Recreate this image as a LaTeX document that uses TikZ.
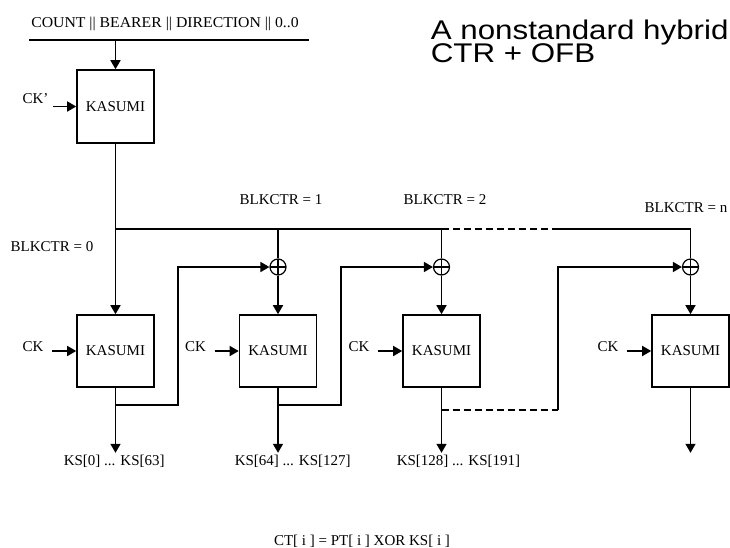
\documentclass[tikz,border=0pt]{standalone}
\usepackage{fontspec}
\setmainfont{Liberation Serif}
\newfontfamily\titlefont{Liberation Sans}
\usetikzlibrary{arrows.meta,positioning}

\begin{document}
\begin{tikzpicture}[
  x=1pt,y=-1pt,line width=1.6pt,
  kb/.style={draw,minimum width=77pt,minimum height=72pt,inner sep=0pt,font=\fontsize{15}{17}\selectfont},
  lb/.style={inner sep=0pt,font=\fontsize{15}{17}\selectfont},
  hd/.style={inner sep=0pt,align=left,font=\titlefont\fontsize{27}{24}\selectfont},
  xo/.style={circle,draw,minimum size=16pt,inner sep=0pt,line width=1.2pt,
    path picture={\draw[line width=1.2pt] (path picture bounding box.north)--(path picture bounding box.south)
      (path picture bounding box.west)--(path picture bounding box.east);}},
  a/.style={-{Triangle[length=9pt,width=10pt]}},
  dsh/.style={dash pattern=on 7pt off 4pt}
]
\useasboundingbox (0,0) rectangle (730,547);

% title
\node[hd,anchor=north west] (hd) at (430,19.5)
  {\scalebox{1.16}[1]{A nonstandard hybrid}\\[-2.7pt]\scalebox{1.16}[1]{CTR + OFB}};

% IV block
\node[lb,anchor=base] (in) at (165,27) {\scalebox{1.05}[1]{COUNT || BEARER || DIRECTION || 0..0}};
\coordinate (bl) at (29,40); \coordinate (br) at (309,40); \coordinate (bi) at (115.5,40);
\draw (bl) -- (br);
\node[kb,minimum height=73pt] (k0) at (115.5,106.5) {KASUMI};
\draw[a] (bi) -- (k0);
\coordinate[left=23pt of k0] (i0);
\node[lb,anchor=base east] (ck0) at ([xshift=-4pt,yshift=3.5pt]i0) {CK'};
\draw[a] (i0) -- (k0);

% keystream blocks
\node[kb] (k1) at (115.5,351) {KASUMI};
\node[kb] (k2) at (278,351) {KASUMI};
\node[kb] (k3) at (441.5,351) {KASUMI};
\node[kb] (k4) at (690.5,351) {KASUMI};
\node[xo] (x1) at (278,267) {};
\node[xo] (x2) at (441.5,267) {};
\node[xo] (x3) at (690.5,267) {};

% counter line
\coordinate (c0) at (115.5,229); \coordinate (c1) at (278,229);
\coordinate (c2) at (441.5,229); \coordinate (cd) at (558,229);
\coordinate (cn) at (690.5,229);
\draw (c0) -- (c2);
\draw[dsh] (c2) -- (cd);
\draw (cd) -- (cn) -- (x3);
\draw (c1) -- (x1); \draw (c2) -- (x2);
\draw[a] (k0) -- (k1);
\draw[a] (x1) -- (k2); \draw[a] (x2) -- (k3); \draw[a] (x3) -- (k4);
\node[lb,anchor=base] (b0) at (52,251) {BLKCTR = 0};
\node[lb,anchor=base] (b1) at (281,204) {BLKCTR = 1};
\node[lb,anchor=base] (b2) at (445,204) {BLKCTR = 2};
\node[lb,anchor=base] (bn) at (686,212) {BLKCTR = n};

% key inputs
\coordinate[left=24pt of k1] (i1);
\node[lb,anchor=base east] (ck1) at ([xshift=-8pt]i1) {CK};
\draw[a] (i1) -- (k1);
\coordinate[left=24pt of k2] (i2);
\node[lb,anchor=base east] (ck2) at ([xshift=-8pt]i2) {CK};
\draw[a] (i2) -- (k2);
\coordinate[left=24pt of k3] (i3);
\node[lb,anchor=base east] (ck3) at ([xshift=-8pt]i3) {CK};
\draw[a] (i3) -- (k3);
\coordinate[left=24pt of k4] (i4);
\node[lb,anchor=base east] (ck4) at ([xshift=-8pt]i4) {CK};
\draw[a] (i4) -- (k4);

% outputs
\coordinate[below=65pt of k1] (o1); \draw[a] (k1) -- (o1);
\coordinate[below=65pt of k2] (o2); \draw[a] (k2) -- (o2);
\coordinate[below=65pt of k3] (o3); \draw[a] (k3) -- (o3);
\coordinate[below=65pt of k4] (o4); \draw[a] (k4) -- (o4);
\node[lb,anchor=base west] (ks1) at (63,465.5) {KS[0] ... KS[63]};
\node[lb,anchor=base west] (ks2) at (234,465.5) {KS[64] ... KS[127]};
\node[lb,anchor=base west] (ks3) at (396,465.5) {KS[128] ... KS[191]};

% feedback
\coordinate (t1) at (115.5,405); \coordinate (f1) at (178,267);
\draw[a] (t1) -| (f1) -- (x1);
\coordinate (t2) at (278,405); \coordinate (f2) at (341,267);
\draw[a] (t2) -| (f2) -- (x2);
\coordinate (t3) at (441.5,410); \coordinate (d3) at (558,410); \coordinate (f3) at (558,267);
\draw[dsh] (t3) -- (d3);
\draw[a] (d3) -- (f3) -- (x3);

\node[lb,anchor=base] (ct) at (362,545) {CT[ i ] = PT[ i ] XOR KS[ i ]};
\end{tikzpicture}
\end{document}
